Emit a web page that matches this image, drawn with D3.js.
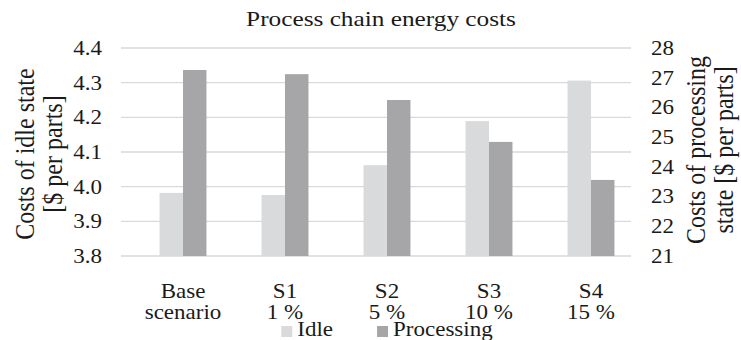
<!DOCTYPE html>
<html>
<head>
<meta charset="utf-8">
<script src="https://cdn.jsdelivr.net/npm/d3@7"></script>
<style>
  html, body { margin: 0; padding: 0; background: #fff; }
</style>
</head>
<body>
<svg id="chart" width="741" height="340"></svg>
<script>
const categoryLine1 = ["Base", "S1", "S2", "S3", "S4"];
const categoryLine2 = ["scenario", "1 %", "5 %", "10 %", "15 %"];
const idleValues = [3.982, 3.976, 4.062, 4.189, 4.306];
const processingValues = [27.26, 27.12, 26.25, 24.84, 23.56];
const leftTicks = [3.8, 3.9, 4.0, 4.1, 4.2, 4.3, 4.4];
const rightTicks = [21, 22, 23, 24, 25, 26, 27, 28];
const seriesNames = ["Idle", "Processing"];
const seriesColors = ["#d9dadb", "#a6a6a8"];
const titleText = "Process chain energy costs";
const leftTitle = ["Costs of idle state", "[$ per parts]"];
const rightTitle = ["Costs of processing", "state [$ per parts]"];

(function () {
const K = 1.15; // horizontal glyph stretch of the reference
const INK = "#1a1a1a";
const svg = d3.select("#chart");
const plotTop = 48, plotBottom = 256, gridL = 121, gridR = 631;

const yL = d3.scaleLinear().domain([3.8, 4.4]).range([plotBottom, plotTop]);
const yR = d3.scaleLinear().domain([21, 28]).range([plotBottom, plotTop]);
const x0 = d3.scaleBand().domain(d3.range(categoryLine1.length)).range([132, 642]).paddingInner(0.54).paddingOuter(0.27);
const x1 = d3.scaleBand().domain([0, 1]).range([0, x0.bandwidth()]);

function txt(sel, size) {
  return sel.style("font-family", "'Liberation Serif'").attr("font-size", size).attr("fill", INK);
}

// gridlines
svg.append("g").selectAll("line").data(leftTicks).join("line")
  .attr("x1", gridL).attr("x2", gridR)
  .attr("y1", d => yL(d)).attr("y2", d => yL(d))
  .attr("stroke", "#d9d9d9").attr("stroke-width", 1.3);

// bars
const groups = svg.append("g").selectAll("g").data(categoryLine1).join("g")
  .attr("transform", (d, i) => `translate(${x0(i)},0)`);
groups.append("rect")
  .attr("x", x1(0)).attr("width", x1.bandwidth())
  .attr("y", (d, i) => yL(idleValues[i])).attr("height", (d, i) => plotBottom - yL(idleValues[i]))
  .attr("fill", seriesColors[0]);
groups.append("rect")
  .attr("x", x1(1)).attr("width", x1.bandwidth())
  .attr("y", (d, i) => yR(processingValues[i])).attr("height", (d, i) => plotBottom - yR(processingValues[i]))
  .attr("fill", seriesColors[1]);

// axes
const axL = svg.append("g").attr("transform", `translate(${gridL},0)`)
  .call(d3.axisLeft(yL).tickValues(leftTicks).tickFormat(d3.format(".1f")).tickSize(0).tickPadding(0));
const axR = svg.append("g").attr("transform", `translate(${gridR},0)`)
  .call(d3.axisRight(yR).tickValues(rightTicks).tickFormat(d3.format("d")).tickSize(0).tickPadding(0));
[axL, axR].forEach(a => {
  a.select(".domain").remove();
  a.attr("font-family", null).attr("font-size", null);
  txt(a.selectAll("text").attr("x", 0), 20);
});
axL.selectAll("text").attr("transform", `translate(-19,0) scale(${K},1)`);
axR.selectAll("text").attr("transform", `translate(20,0) scale(${K},1)`);

// x labels
const xl = svg.append("g").selectAll("g").data(categoryLine1).join("g")
  .attr("transform", (d, i) => `translate(${x0(i) + x0.bandwidth() / 2},0)`);
txt(xl.append("text"), 20).attr("text-anchor", "middle")
  .attr("transform", `translate(0,298) scale(${K},1)`).text(d => d);
txt(xl.append("text"), 20).attr("text-anchor", "middle")
  .attr("transform", `translate(0,319) scale(${K},1)`).text((d, i) => categoryLine2[i]);

// title
txt(svg.append("text"), 22).attr("text-anchor", "middle")
  .attr("transform", `translate(381,26) scale(${K},1)`).text(titleText);

// axis titles
[[leftTitle, [34, 62], 154], [rightTitle, [705, 733], 150]].forEach(([lines, xs, cy]) => {
  lines.forEach((t, j) => {
    txt(svg.append("text"), 24).attr("text-anchor", "middle")
      .attr("transform", `translate(${xs[j]},${cy}) scale(${K},1) rotate(-90)`).text(t);
  });
});

// legend
const GAP = 44;
const leg = svg.append("g");
let lx = 0;
seriesNames.forEach((n, i) => {
  const g = leg.append("g").attr("transform", `translate(${lx},0)`);
  g.append("rect").attr("x", 0).attr("y", 326).attr("width", 11).attr("height", 11).attr("fill", seriesColors[i]);
  const t = txt(g.append("text"), 20).attr("transform", `translate(16,336) scale(${K},1)`).text(n);
  lx += 16 + t.node().getComputedTextLength() * K + GAP;
});
const legW = lx - GAP;
const center = (x0.range()[0] + x0.range()[1]) / 2;
leg.attr("transform", `translate(${center - legW / 2},0)`);
})();
</script>
</body>
</html>
